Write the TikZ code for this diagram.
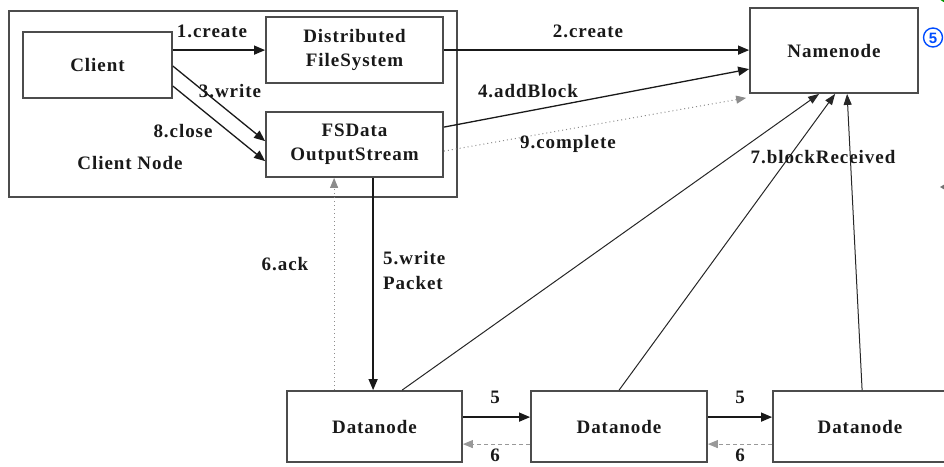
\documentclass[tikz,border=0pt]{standalone}
\usepackage{fontspec}
\setmainfont{Liberation Serif}
\newfontfamily\labfont{Liberation Serif Bold}[LetterSpace=5]
\setsansfont{Liberation Sans}
\usetikzlibrary{arrows.meta,calc}
\begin{document}
\begin{tikzpicture}[x=1pt,y=-1pt,
  box/.style={draw=black!70,line width=1.8pt,fill=white,inner sep=0pt,align=center,
    font=\labfont\fontsize{19}{24}\selectfont,text=black!90},
  lbl/.style={inner sep=0pt,font=\labfont\fontsize{19}{25}\selectfont,text=black!90},
  arr/.style={-{Triangle[length=11pt,width=9pt]},line width=1.3pt,draw=black!90},
  thinarr/.style={-{Triangle[length=11pt,width=8pt]},line width=1pt,draw=black!85},
  dotarr/.style={-{Triangle[length=10pt,width=8pt]},line width=1pt,draw=black!45,
    dash pattern=on 1pt off 3pt},
  dasharr/.style={-{Triangle[length=10pt,width=8pt]},line width=1pt,draw=black!40,
    dash pattern=on 4pt off 3pt}
]
\useasboundingbox (0,0) rectangle (944,466);
\begin{scope}
\clip (0,0) rectangle (944,466);

% client node frame
\node[draw=black!70,line width=2.2pt,minimum width=448pt,minimum height=186pt,inner sep=0pt] (frame) at (233,104) {};
\node[lbl] (framelbl) at (130,163) {Client Node};

% boxes
\node[box,minimum width=149pt,minimum height=66pt] (client) at (97.5,65) {Client};
\node[box,minimum width=177pt,minimum height=66pt] (dfs) at (354.5,50) {Distributed\\FileSystem};
\node[box,minimum width=177pt,minimum height=65pt] (fsd) at (354.5,144.5) {FSData\\OutputStream};
\node[box,minimum width=168pt,minimum height=85pt] (nn) at (834,50.5) {Namenode};
\node[box,minimum width=175pt,minimum height=71pt] (dn1) at (374.5,426.5) {Datanode};
\node[box,minimum width=176pt,minimum height=71pt] (dn2) at (619,426.5) {Datanode};
\node[box,minimum width=174pt,minimum height=71pt] (dn3) at (860,426.5) {Datanode};

% client side calls
\draw[arr] ($(client.north east)+(0,19)$) -- ($(dfs.north west)+(0,34)$);
\draw[arr] ($(client.north east)+(0,35)$) -- ($(fsd.north west)+(0,30)$);
\draw[arr] ($(client.north east)+(0,55)$) -- ($(fsd.north west)+(0,50)$);

% calls to the namenode
\draw[arr] ($(dfs.north east)+(0,34)$) -- ($(nn.north west)+(0,43)$);
\draw[arr] ($(fsd.north east)+(0,16)$) -- ($(nn.north west)+(0,62)$);
\draw[dotarr] ($(fsd.north east)+(0,40)$) -- ($(nn.south west)+(-3,4)$);

% packet flow to the first datanode and its ack
\coordinate (wp) at ($(fsd.south west)+(108,0)$);
\draw[arr] (wp) -- (wp |- dn1.north);
\coordinate (ak) at ($(dn1.north west)+(48,0)$);
\draw[dotarr] (ak) -- (ak |- fsd.south);

% pipeline between datanodes
\draw[arr] ($(dn1.north east)+(0,27)$) -- ($(dn2.north west)+(0,27)$);
\draw[dasharr] ($(dn2.north west)+(0,54)$) -- ($(dn1.north east)+(0,54)$);
\draw[arr] ($(dn2.north east)+(0,27)$) -- ($(dn3.north west)+(0,27)$);
\draw[dasharr] ($(dn3.north west)+(0,54)$) -- ($(dn2.north east)+(0,54)$);

% block received reports
\draw[thinarr] ($(dn1.north west)+(116,0)$) -- ($(nn.south west)+(70,0)$);
\draw[thinarr] ($(dn2.north west)+(89,0)$) -- ($(nn.south west)+(86,0)$);
\draw[thinarr] ($(dn3.north west)+(90,0)$) -- ($(nn.south west)+(98,0)$);

% labels
\node[lbl] (l1) at (212,31) {1.create};
\node[lbl] (l2) at (588,31) {2.create};
\node[lbl] (l3) at (230,91) {3.write};
\node[lbl] (l8) at (183,131) {8.close};
\node[lbl] (l4) at (528,91) {4.addBlock};
\node[lbl] (l9) at (568,144) {9.complete};
\node[lbl] (l7) at (823,157) {7.blockReceived};
\node[lbl] (l6) at (285,264) {6.ack};
\node[lbl,align=left,anchor=west] (l5) at (383,270.5) {5.write\\Packet};
\node[lbl] (p1) at (495,397) {5};
\node[lbl] (p2) at (740,397) {5};
\node[lbl] (a1) at (495,455) {6};
\node[lbl] (a2) at (740,455) {6};

% marks at the right edge
\draw[green!60!black,line width=1.6pt] (948,-9) circle (11);
\draw[blue!70!cyan,line width=1.4pt] (933,37.5) circle (9.5);
\node[text=blue!70!cyan,inner sep=0pt,font=\sffamily\bfseries\fontsize{15}{15}\selectfont] (mk) at (933,38) {5};
\fill[black!55] (940,187) -- (945,184) -- (945,190) -- cycle;
\end{scope}
\end{tikzpicture}
\end{document}
